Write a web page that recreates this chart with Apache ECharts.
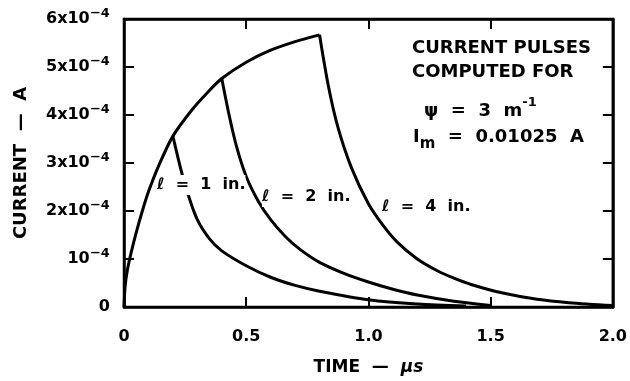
<!DOCTYPE html>
<html>
<head>
<meta charset="utf-8">
<script src="https://cdn.jsdelivr.net/npm/echarts@6/dist/echarts.min.js"></script>
<style>
html,body{margin:0;padding:0;background:#fff;}
#chart{width:630px;height:381px;}
</style>
</head>
<body>
<div id="chart"></div>
<script>
// Time in microseconds, current in units of 1e-4 A
const riseTime    = [0, 0.005, 0.015, 0.03, 0.05, 0.075, 0.1, 0.14, 0.2, 0.28, 0.34, 0.4, 0.5, 0.6, 0.7, 0.8];
const riseCurrent = [0, 0.45, 0.8, 1.15, 1.55, 2.0, 2.4, 2.92, 3.56, 4.12, 4.46, 4.76, 5.1, 5.35, 5.53, 5.67];

const decay1Time    = [0.2, 0.234, 0.26, 0.3, 0.35, 0.4, 0.5, 0.6, 0.7, 0.8, 1.0, 1.2, 1.4];
const decay1Current = [3.56, 2.84, 2.38, 1.82, 1.42, 1.17, 0.86, 0.62, 0.45, 0.33, 0.15, 0.06, 0.02];

const decay2Time    = [0.4, 0.43, 0.46, 0.5, 0.55, 0.6, 0.66, 0.72, 0.8, 0.9, 1.0, 1.1, 1.2, 1.35, 1.5];
const decay2Current = [4.76, 4.0, 3.35, 2.72, 2.2, 1.82, 1.47, 1.2, 0.93, 0.7, 0.52, 0.37, 0.25, 0.12, 0.03];

const decay4Time    = [0.8, 0.836, 0.876, 0.93, 1.0, 1.06, 1.12, 1.2, 1.28, 1.35, 1.42, 1.55, 1.69, 1.82, 2.0];
const decay4Current = [5.67, 4.61, 3.73, 2.91, 2.15, 1.7, 1.34, 1.0, 0.76, 0.6, 0.47, 0.29, 0.16, 0.09, 0.03];

const xTickLabels = ['0', '0.5', '1.0', '1.5', '2.0'];
const yTickMantissa = ['0', '10', '2x10', '3x10', '4x10', '5x10', '6x10'];
const yTickExponent = '⁻⁴';

const pairs = (t, c) => t.map((v, i) => [v, c[i]]);
const FONT = '"DejaVu Sans", sans-serif';

const chart = echarts.init(document.getElementById('chart'), null, {renderer: 'canvas'});

const lineSeries = (data) => ({
  type: 'line', data: data, showSymbol: false, symbol: 'none', smooth: 0.3,
  lineStyle: {color: '#000', width: 3}, xAxisIndex: 0, yAxisIndex: 0, z: 3
});

const axisParts = () => ({
  axisLine: {show: true, onZero: false, lineStyle: {color: '#000', width: 2.5}},
  axisTick: {show: true, inside: true, length: 10, lineStyle: {color: '#000', width: 2}},
  splitLine: {show: false}
});

chart.setOption({
  animation: false,
  backgroundColor: '#fff',
  grid: {left: 124, right: 13, top: 19, bottom: 69, show: true, borderColor: '#000', borderWidth: 2.5, backgroundColor: 'transparent'},
  xAxis: [
    Object.assign({
      type: 'value', min: 0, max: 2, interval: 0.5, position: 'bottom',
      name: '{a|TIME  —  }{m|μs}', nameLocation: 'middle', nameGap: 52,
      nameTextStyle: {rich: {
        a: {fontFamily: FONT, fontWeight: 'bold', fontSize: 17, color: '#000'},
        m: {fontFamily: FONT, fontWeight: 'bold', fontStyle: 'italic', fontSize: 17, color: '#000'}
      }},
      axisLabel: {
        margin: 22, color: '#000', fontFamily: FONT, fontWeight: 'bold', fontSize: 16,
        formatter: (v) => xTickLabels[Math.round(v / 0.5)]
      }
    }, axisParts()),
    Object.assign({
      type: 'value', min: 0, max: 2, interval: 0.5, position: 'top', show: true,
      axisLabel: {show: false}
    }, axisParts())
  ],
  yAxis: [
    Object.assign({
      type: 'value', min: 0, max: 6, interval: 1, position: 'left',
      name: 'CURRENT  —  A', nameLocation: 'middle', nameGap: 94, nameRotate: 90,
      nameTextStyle: {fontFamily: FONT, fontWeight: 'bold', fontSize: 18, color: '#000'},
      axisLabel: {
        margin: 14, color: '#000',
        formatter: (v) => {
          const i = Math.round(v);
          if (i === 0) return '{z|' + yTickMantissa[0] + '}';
          return '{b|' + yTickMantissa[i] + '}{s|' + yTickExponent + '}';
        },
        rich: {
          z: {fontFamily: FONT, fontWeight: 'bold', fontSize: 16, color: '#000'},
          b: {fontFamily: FONT, fontWeight: 'bold', fontSize: 16, color: '#000'},
          s: {fontFamily: FONT, fontWeight: 'bold', fontSize: 21, color: '#000'}
        }
      }
    }, axisParts()),
    Object.assign({
      type: 'value', min: 0, max: 6, interval: 1, position: 'right', show: true,
      axisLabel: {show: false}
    }, axisParts())
  ],
  series: [
    lineSeries(pairs(riseTime, riseCurrent)),
    lineSeries(pairs(decay1Time, decay1Current)),
    lineSeries(pairs(decay2Time, decay2Current)),
    lineSeries(pairs(decay4Time, decay4Current))
  ],
  graphic: [
    {type: 'text', x: 412, y: 48, z: 100, style: {text: 'CURRENT PULSES', font: 'bold 18px ' + FONT, fill: '#000', align: 'left', verticalAlign: 'middle'}},
    {type: 'text', x: 412, y: 72, z: 100, style: {text: 'COMPUTED FOR', font: 'bold 18px ' + FONT, fill: '#000', align: 'left', verticalAlign: 'middle'}},
    {type: 'text', x: 424, y: 108, z: 100, style: {
      text: '{a|ψ  =  3  m}{s|-1}', align: 'left', verticalAlign: 'middle',
      rich: {
        a: {fontFamily: FONT, fontWeight: 'bold', fontSize: 18, lineHeight: 24, verticalAlign: 'bottom', fill: '#000'},
        s: {fontFamily: FONT, fontWeight: 'bold', fontSize: 13, lineHeight: 13, verticalAlign: 'top', fill: '#000'}
      }
    }},
    {type: 'text', x: 413, y: 140, z: 100, style: {
      text: '{a|I}{m|m}{a|  =  0.01025  A}', align: 'left', verticalAlign: 'middle',
      rich: {
        a: {fontFamily: FONT, fontWeight: 'bold', fontSize: 18, lineHeight: 24, verticalAlign: 'top', fill: '#000'},
        m: {fontFamily: FONT, fontWeight: 'bold', fontSize: 15, lineHeight: 15, verticalAlign: 'bottom', fill: '#000'}
      }
    }},
    {type: 'text', x: 157, y: 185, z: 100, style: {text: 'ℓ  =  1  in.', font: 'bold 16px ' + FONT, fill: '#000', align: 'left', verticalAlign: 'middle', backgroundColor: '#fff', padding: [2, 0, 2, 0]}},
    {type: 'text', x: 262, y: 197, z: 100, style: {text: 'ℓ  =  2  in.', font: 'bold 16px ' + FONT, fill: '#000', align: 'left', verticalAlign: 'middle', backgroundColor: '#fff', padding: [2, 0, 2, 0]}},
    {type: 'text', x: 382, y: 207, z: 100, style: {text: 'ℓ  =  4  in.', font: 'bold 16px ' + FONT, fill: '#000', align: 'left', verticalAlign: 'middle', backgroundColor: '#fff', padding: [2, 0, 2, 0]}}
  ]
});
</script>
</body>
</html>
